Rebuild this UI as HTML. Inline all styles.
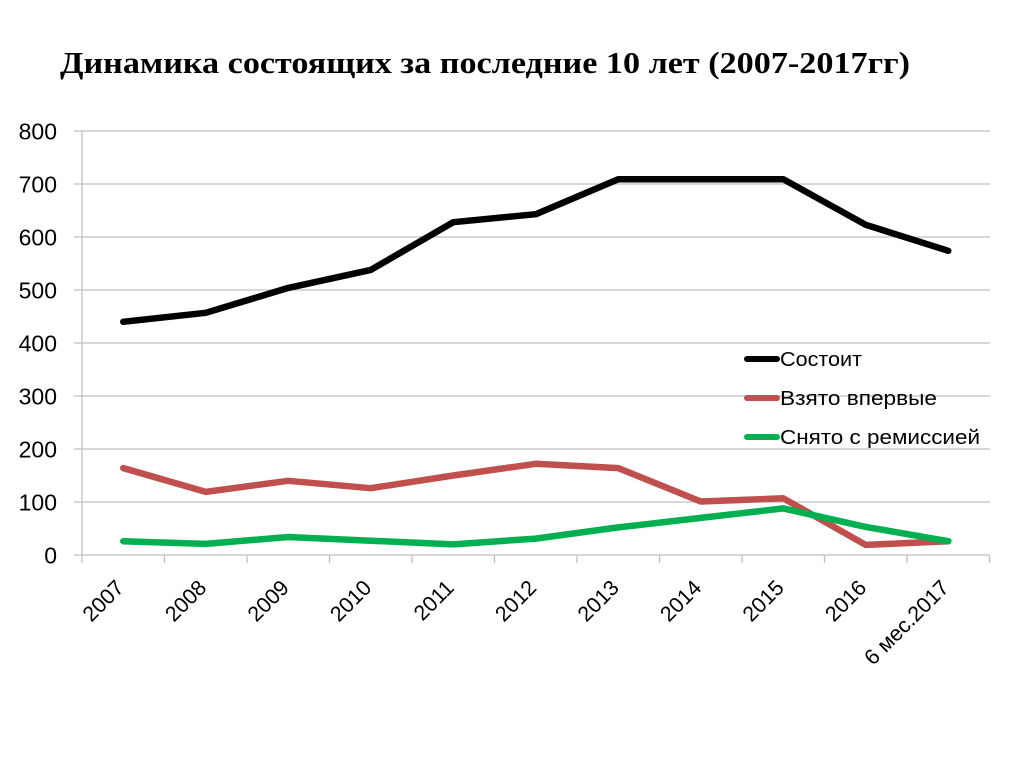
<!DOCTYPE html>
<html>
<head>
<meta charset="utf-8">
<style>
html,body{margin:0;padding:0;background:#fff;}
svg{display:block;}
</style>
</head>
<body>
<svg width="1024" height="767" viewBox="0 0 1024 767" xmlns="http://www.w3.org/2000/svg">
<rect width="1024" height="767" fill="#fff"/>
<text x="60" y="73" font-family="Liberation Serif, serif" font-weight="bold" font-size="31" textLength="850" lengthAdjust="spacingAndGlyphs" fill="#000">Динамика состоящих за последние 10 лет (2007-2017гг)</text>

<g stroke="#BFBFBF" stroke-width="1.3" fill="none">
<line x1="74" y1="131" x2="990" y2="131"/>
<line x1="74" y1="184" x2="990" y2="184"/>
<line x1="74" y1="237" x2="990" y2="237"/>
<line x1="74" y1="290" x2="990" y2="290"/>
<line x1="74" y1="343" x2="990" y2="343"/>
<line x1="74" y1="396" x2="990" y2="396"/>
<line x1="74" y1="449" x2="990" y2="449"/>
<line x1="74" y1="502" x2="990" y2="502"/>
<line x1="74" y1="555" x2="990" y2="555"/>
<line x1="82" y1="131" x2="82" y2="563"/>
<line x1="164.5" y1="555" x2="164.5" y2="563"/>
<line x1="247" y1="555" x2="247" y2="563"/>
<line x1="329.5" y1="555" x2="329.5" y2="563"/>
<line x1="412" y1="555" x2="412" y2="563"/>
<line x1="494.5" y1="555" x2="494.5" y2="563"/>
<line x1="577" y1="555" x2="577" y2="563"/>
<line x1="659.5" y1="555" x2="659.5" y2="563"/>
<line x1="742" y1="555" x2="742" y2="563"/>
<line x1="824.5" y1="555" x2="824.5" y2="563"/>
<line x1="907" y1="555" x2="907" y2="563"/>
<line x1="989.5" y1="555" x2="989.5" y2="563"/>
</g>

<g font-family="Liberation Sans, sans-serif" font-size="23" fill="#000" text-anchor="end">
<text x="57" y="139.5">800</text>
<text x="57" y="192.5">700</text>
<text x="57" y="245.5">600</text>
<text x="57" y="298.5">500</text>
<text x="57" y="351.5">400</text>
<text x="57" y="404.5">300</text>
<text x="57" y="457.5">200</text>
<text x="57" y="510.5">100</text>
<text x="57" y="563.5">0</text>
</g>

<g font-family="Liberation Sans, sans-serif" font-size="21.5" fill="#000" text-anchor="end">
<text transform="translate(125.25,589) rotate(-45)">2007</text>
<text transform="translate(207.75,589) rotate(-45)">2008</text>
<text transform="translate(290.25,589) rotate(-45)">2009</text>
<text transform="translate(372.75,589) rotate(-45)">2010</text>
<text transform="translate(455.25,589) rotate(-45)">2011</text>
<text transform="translate(537.75,589) rotate(-45)">2012</text>
<text transform="translate(620.25,589) rotate(-45)">2013</text>
<text transform="translate(702.75,589) rotate(-45)">2014</text>
<text transform="translate(785.25,589) rotate(-45)">2015</text>
<text transform="translate(867.75,589) rotate(-45)">2016</text>
<text transform="translate(950.25,589) rotate(-45)">6 мес.2017</text>
</g>

<g fill="none" stroke-linejoin="round" stroke-linecap="round">
<polyline stroke="#000000" stroke-width="6.5" points="123.25,321.8 205.75,312.8 288.25,287.9 370.75,269.9 453.25,222.2 535.75,214.2 618.25,179.2 700.75,179.2 783.25,179.2 865.75,224.8 948.25,250.8"/>
<polyline stroke="#C0504D" stroke-width="6.5" points="123.25,468.1 205.75,491.9 288.25,480.8 370.75,488.2 453.25,475.5 535.75,463.8 618.25,468.1 700.75,501.5 783.25,498.3 865.75,544.9 948.25,541.2"/>
<polyline stroke="#00B050" stroke-width="6.5" points="123.25,541.2 205.75,543.9 288.25,537.0 370.75,540.7 453.25,544.4 535.75,538.6 618.25,527.4 700.75,517.9 783.25,508.4 865.75,526.9 948.25,541.2"/>
</g>

<g stroke-width="6" stroke-linecap="round">
<line x1="747" y1="359" x2="777" y2="359" stroke="#000000"/>
<line x1="747" y1="398" x2="777" y2="398" stroke="#C0504D"/>
<line x1="747" y1="437" x2="777" y2="437" stroke="#00B050"/>
</g>
<g font-family="Liberation Sans, sans-serif" font-size="20" fill="#000">
<text x="780" y="366" textLength="82" lengthAdjust="spacingAndGlyphs">Состоит</text>
<text x="780" y="405" textLength="157" lengthAdjust="spacingAndGlyphs">Взято впервые</text>
<text x="780" y="444" textLength="200" lengthAdjust="spacingAndGlyphs">Снято с ремиссией</text>
</g>
</svg>
</body>
</html>
